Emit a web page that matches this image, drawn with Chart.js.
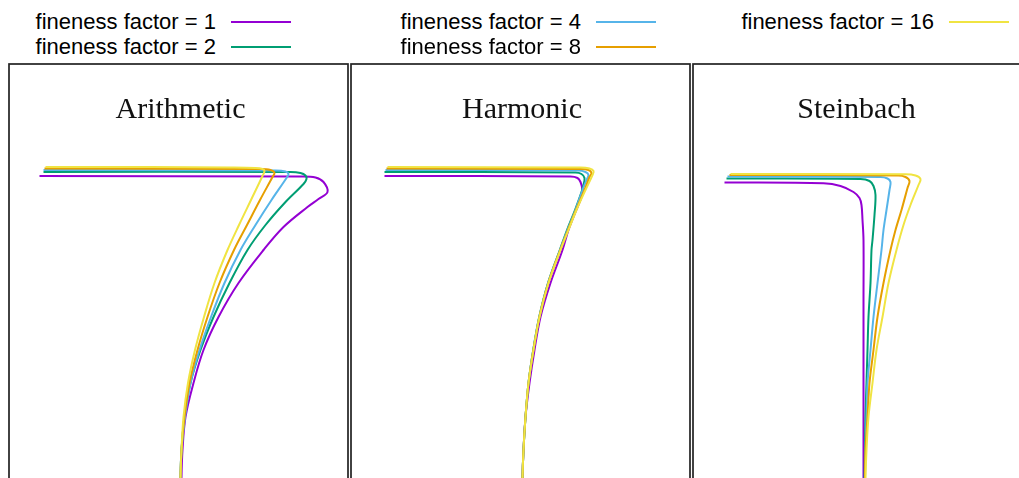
<!DOCTYPE html>
<html>
<head>
<meta charset="utf-8">
<script src="https://cdn.jsdelivr.net/npm/chart.js@4.4.1/dist/chart.umd.min.js"></script>
<style>
  html, body { margin: 0; padding: 0; background: #fff; width: 1019px; height: 478px; overflow: hidden; }
  canvas.panel { position: absolute; }
  .key-text { position: absolute; font-family: "Liberation Sans", Arial, sans-serif; font-size: 22px; line-height: 22px; color: #000; white-space: nowrap; text-align: right; }
  .key-line { position: absolute; height: 2px; }
</style>
</head>
<body>
<script>
// Fineness factors and their colours
const factors = [1, 2, 4, 8, 16];
const seriesColors = ['#9400D3', '#009E73', '#56B4E9', '#E69F00', '#F0E442'];
const panelNames = ['Arithmetic', 'Harmonic', 'Steinbach'];

// Profiles as [x, y] pairs, one list per fineness factor (1, 2, 4, 8, 16)
const arithmetic = [
  [[0.305,3.24],[2.915,3.235],[3.065,3.225],[3.145,3.18],[3.185,3.08],[3.095,3.01],[2.985,2.93],[2.745,2.73],[2.545,2.50],[2.295,2.17],[2.095,1.83],[1.945,1.50],[1.845,1.17],[1.765,0.83],[1.735,0.50],[1.725,0.22],[1.725,0]],
  [[0.345,3.28],[2.815,3.28],[2.915,3.27],[2.965,3.245],[2.975,3.21],[2.945,3.16],[2.765,2.98],[2.565,2.75],[2.385,2.50],[2.205,2.17],[2.045,1.83],[1.915,1.50],[1.815,1.17],[1.755,0.83],[1.725,0.50],[1.715,0.22],[1.715,0]],
  [[0.345,3.30],[2.665,3.295],[2.765,3.285],[2.795,3.26],[2.775,3.22],[2.625,3.00],[2.465,2.75],[2.315,2.50],[2.155,2.17],[2.02,1.83],[1.905,1.50],[1.815,1.17],[1.76,0.83],[1.725,0.50],[1.715,0.22],[1.715,0]],
  [[0.355,3.315],[2.515,3.31],[2.615,3.30],[2.655,3.27],[2.635,3.23],[2.51,3.00],[2.38,2.75],[2.25,2.50],[2.105,2.17],[1.985,1.83],[1.885,1.50],[1.805,1.17],[1.755,0.83],[1.725,0.50],[1.715,0.22],[1.715,0]],
  [[0.365,3.33],[1.415,3.33],[2.215,3.325],[2.465,3.32],[2.535,3.31],[2.555,3.29],[2.535,3.24],[2.42,3.00],[2.30,2.75],[2.185,2.50],[2.055,2.17],[1.95,1.83],[1.86,1.50],[1.79,1.17],[1.745,0.83],[1.725,0.50],[1.715,0.22],[1.715,0]]
];
const harmonic = [
  [[0.335,3.24],[2.195,3.235],[2.265,3.22],[2.295,3.18],[2.315,3.10],[2.305,3.03],[2.245,2.88],[2.175,2.70],[2.115,2.50],[1.995,2.17],[1.895,1.83],[1.835,1.50],[1.785,1.17],[1.745,0.83],[1.725,0.50],[1.715,0.22],[1.715,0]],
  [[0.335,3.28],[2.245,3.275],[2.305,3.26],[2.335,3.22],[2.325,3.15],[2.305,3.08],[2.24,2.90],[2.16,2.70],[2.088,2.50],[1.97,2.17],[1.882,1.83],[1.822,1.50],[1.775,1.17],[1.745,0.83],[1.725,0.50],[1.715,0.22],[1.715,0]],
  [[0.345,3.30],[2.275,3.295],[2.345,3.28],[2.375,3.25],[2.355,3.20],[2.315,3.10],[2.245,2.90],[2.165,2.70],[2.09,2.50],[1.971,2.17],[1.883,1.83],[1.823,1.50],[1.775,1.17],[1.745,0.83],[1.725,0.50],[1.715,0.22],[1.715,0]],
  [[0.355,3.315],[2.295,3.31],[2.375,3.30],[2.405,3.27],[2.385,3.23],[2.335,3.10],[2.25,2.90],[2.17,2.70],[2.092,2.50],[1.973,2.17],[1.884,1.83],[1.824,1.50],[1.775,1.17],[1.745,0.83],[1.725,0.50],[1.715,0.22],[1.715,0]],
  [[0.365,3.33],[2.295,3.325],[2.385,3.315],[2.425,3.29],[2.415,3.25],[2.345,3.10],[2.255,2.90],[2.175,2.70],[2.095,2.50],[1.975,2.17],[1.885,1.83],[1.825,1.50],[1.775,1.17],[1.745,0.83],[1.725,0.50],[1.715,0.22],[1.715,0]]
];
const steinbach = [
  [[0.315,3.175],[1.305,3.167],[1.475,3.14],[1.605,3.08],[1.665,3.02],[1.685,2.95],[1.695,2.80],[1.705,2.60],[1.705,2.00],[1.705,1.00],[1.705,0.22],[1.705,0]],
  [[0.335,3.215],[1.675,3.21],[1.765,3.19],[1.805,3.14],[1.825,3.05],[1.815,2.85],[1.795,2.60],[1.785,2.50],[1.775,2.17],[1.755,1.83],[1.745,1.50],[1.735,1.17],[1.725,0.83],[1.72,0.50],[1.715,0.22],[1.715,0]],
  [[0.345,3.235],[1.875,3.23],[1.945,3.215],[1.975,3.18],[1.965,3.10],[1.935,2.90],[1.905,2.70],[1.885,2.50],[1.845,2.17],[1.805,1.83],[1.775,1.50],[1.745,1.17],[1.735,0.83],[1.725,0.50],[1.72,0.22],[1.72,0]],
  [[0.365,3.25],[2.055,3.245],[2.125,3.23],[2.165,3.19],[2.145,3.12],[2.085,2.90],[2.025,2.70],[1.975,2.50],[1.905,2.17],[1.845,1.83],[1.805,1.50],[1.765,1.17],[1.745,0.83],[1.725,0.50],[1.72,0.22],[1.72,0]],
  [[0.375,3.26],[2.125,3.257],[2.225,3.245],[2.275,3.21],[2.255,3.15],[2.175,2.95],[2.105,2.75],[2.035,2.50],[1.955,2.17],[1.895,1.83],[1.835,1.50],[1.795,1.17],[1.755,0.83],[1.735,0.50],[1.725,0.22],[1.725,0]]
];
const panelData = [arithmetic, harmonic, steinbach];
// Horizontal position (data units) at which each panel name is centred
const titleCenters = [1.715, 1.71, 1.635];

// Panel layout on the page
const panelLefts = [8.5, 350.5, 692.5];
const panelTop = 64;
const pad = 2;

// Frame around each panel
const framePlugin = {
  id: 'frame',
  afterDraw(chart) {
    const { ctx, chartArea: a } = chart;
    ctx.save();
    ctx.strokeStyle = '#222';
    ctx.lineWidth = 1.7;
    ctx.strokeRect(a.left, a.top, a.right - a.left, a.bottom - a.top);
    ctx.restore();
  }
};

// Panel name drawn inside the frame
const panelTitlePlugin = {
  id: 'panelTitle',
  afterDraw(chart, args, opts) {
    const { ctx, chartArea, scales } = chart;
    ctx.save();
    ctx.font = '30px "Liberation Serif", "Times New Roman", serif';
    ctx.fillStyle = '#111';
    ctx.textAlign = 'center';
    ctx.textBaseline = 'alphabetic';
    ctx.fillText(opts.text, scales.x.getPixelForValue(opts.x), chartArea.top + 54);
    ctx.restore();
  }
};

panelNames.forEach((name, p) => {
  const canvas = document.createElement('canvas');
  canvas.className = 'panel';
  canvas.width = 339 + 2 * pad;
  canvas.height = 442 + 2 * pad;
  canvas.style.left = (panelLefts[p] - pad) + 'px';
  canvas.style.top = (panelTop - pad) + 'px';
  document.body.appendChild(canvas);

  new Chart(canvas, {
    type: 'scatter',
    data: {
      datasets: factors.map((f, i) => ({
        label: 'fineness factor = ' + f,
        data: panelData[p][i].map(([x, y]) => ({ x, y })),
        showLine: true,
        borderColor: seriesColors[i],
        backgroundColor: seriesColors[i],
        borderWidth: 2,
        pointRadius: 0,
        tension: 0.35,
        order: factors.length - i
      }))
    },
    options: {
      responsive: false,
      animation: false,
      devicePixelRatio: 1,
      layout: { padding: pad },
      scales: {
        x: { type: 'linear', min: 0, max: 3.39, display: false },
        y: { type: 'linear', min: -0.06, max: 4.36, display: false }
      },
      plugins: {
        legend: { display: false },
        tooltip: { enabled: false },
        panelTitle: { text: name, x: titleCenters[p] }
      }
    },
    plugins: [framePlugin, panelTitlePlugin]
  });
});

// Key above the panels: two rows per column, text to the left of the line sample
const keyTextRight = [216, 581, 934];
const keyLineLeft = [231, 596, 949];
const keyRowY = [21.5, 46.5];
factors.forEach((f, i) => {
  const col = Math.floor(i / 2), row = i % 2;
  const t = document.createElement('div');
  t.className = 'key-text';
  t.textContent = 'fineness factor = ' + f;
  t.style.right = (1019 - keyTextRight[col]) + 'px';
  t.style.top = (keyRowY[row] - 11) + 'px';
  document.body.appendChild(t);
  const l = document.createElement('div');
  l.className = 'key-line';
  l.style.left = keyLineLeft[col] + 'px';
  l.style.width = '60px';
  l.style.top = (keyRowY[row] - 1) + 'px';
  l.style.background = seriesColors[i];
  document.body.appendChild(l);
});
</script>
</body>
</html>
